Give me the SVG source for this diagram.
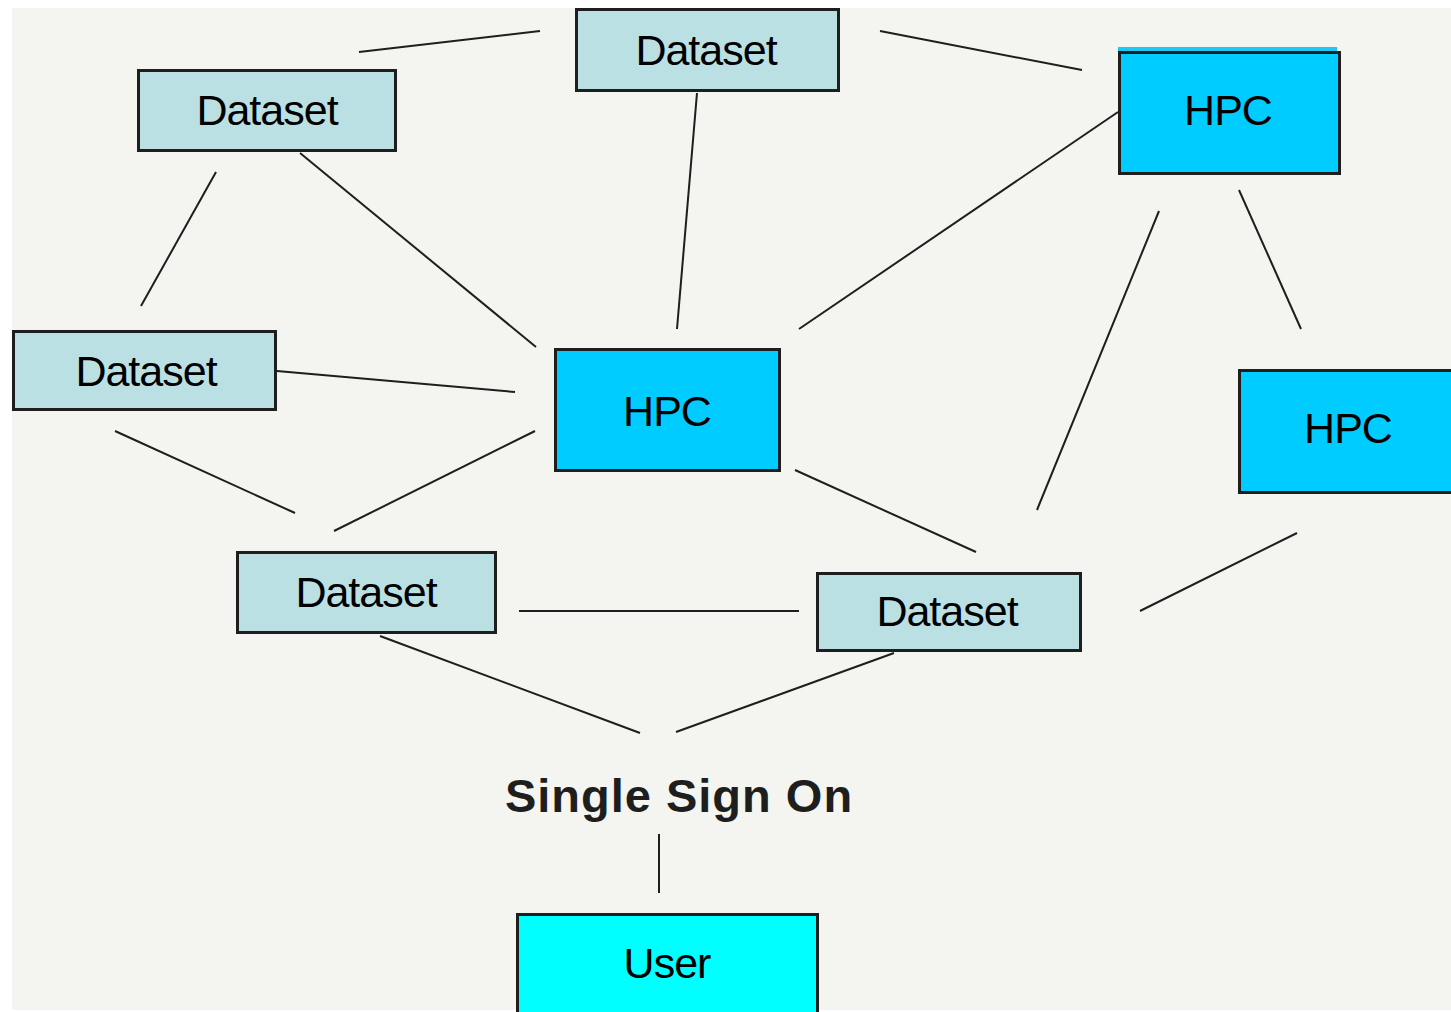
<svg xmlns="http://www.w3.org/2000/svg" width="1451" height="1012" viewBox="0 0 1451 1012">
  <style>
    .box { stroke: #1e1e1e; stroke-width: 3; }
    .dataset { fill: #bbe0e3; }
    .hpc { fill: #00ccff; }
    .user { fill: #00ffff; }
    .label { font-family: "Liberation Sans", Arial, sans-serif; font-size: 43px; letter-spacing: -1px; fill: #000; text-anchor: middle; }
    .sso { font-family: "Liberation Sans", Arial, sans-serif; font-size: 47px; font-weight: bold; letter-spacing: 1px; fill: #1e1e1e; text-anchor: middle; }
    .links line { stroke: #1e1e1e; stroke-width: 2; fill: none; }
  </style>

  <!-- canvas -->
  <rect x="0" y="0" width="1451" height="1012" fill="#ffffff"/>
  <rect x="12" y="8" width="1439" height="1002" fill="#f4f5f0"/>

  <!-- connectors -->
  <g id="connectors" class="links">
    <line x1="359" y1="52" x2="540" y2="31"/>
    <line x1="880" y1="31" x2="1082" y2="70"/>
    <line x1="216" y1="172" x2="141" y2="306"/>
    <line x1="300" y1="153" x2="536" y2="347"/>
    <line x1="697" y1="93" x2="677" y2="329"/>
    <line x1="1118" y1="112" x2="799" y2="329"/>
    <line x1="1159" y1="211" x2="1037" y2="510"/>
    <line x1="1239" y1="190" x2="1301" y2="329"/>
    <line x1="277" y1="371" x2="515" y2="392"/>
    <line x1="115" y1="431" x2="295" y2="513"/>
    <line x1="535" y1="431" x2="334" y2="531"/>
    <line x1="795" y1="470" x2="976" y2="552"/>
    <line x1="519" y1="611" x2="799" y2="611"/>
    <line x1="1297" y1="533" x2="1140" y2="611"/>
    <line x1="380" y1="636" x2="640" y2="733"/>
    <line x1="894" y1="653" x2="676" y2="732"/>
    <line x1="659" y1="834" x2="659" y2="893"/>
  </g>

  <g id="dataset-top-left">
    <rect class="box dataset" x="138.5" y="70.5" width="257" height="80"/>
    <text class="label" x="267" y="125">Dataset</text>
  </g>

  <g id="dataset-top-center">
    <rect class="box dataset" x="576.5" y="9.5" width="262" height="81"/>
    <text class="label" x="706" y="65">Dataset</text>
  </g>

  <g id="hpc-top-right">
    <rect x="1118" y="47" width="219" height="5" fill="#1ec8f5"/>
    <rect class="box hpc" x="1119.5" y="52.5" width="220" height="121"/>
    <text class="label" x="1228" y="125">HPC</text>
  </g>

  <g id="dataset-left">
    <rect class="box dataset" x="13.5" y="331.5" width="262" height="78"/>
    <text class="label" x="146" y="386">Dataset</text>
  </g>

  <g id="hpc-center">
    <rect class="box hpc" x="555.5" y="349.5" width="224" height="121"/>
    <text class="label" x="667" y="426">HPC</text>
  </g>

  <g id="hpc-right">
    <rect class="box hpc" x="1239.5" y="370.5" width="220" height="122"/>
    <text class="label" x="1348" y="443">HPC</text>
  </g>

  <g id="dataset-bottom-left">
    <rect class="box dataset" x="237.5" y="552.5" width="258" height="80"/>
    <text class="label" x="366" y="607">Dataset</text>
  </g>

  <g id="dataset-bottom-right">
    <rect class="box dataset" x="817.5" y="573.5" width="263" height="77"/>
    <text class="label" x="947" y="626">Dataset</text>
  </g>

  <g id="single-sign-on">
    <text class="sso" x="679" y="812">Single Sign On</text>
  </g>

  <g id="user">
    <rect class="box user" x="517.5" y="914.5" width="300" height="100"/>
    <text class="label" x="667" y="978">User</text>
  </g>
</svg>
